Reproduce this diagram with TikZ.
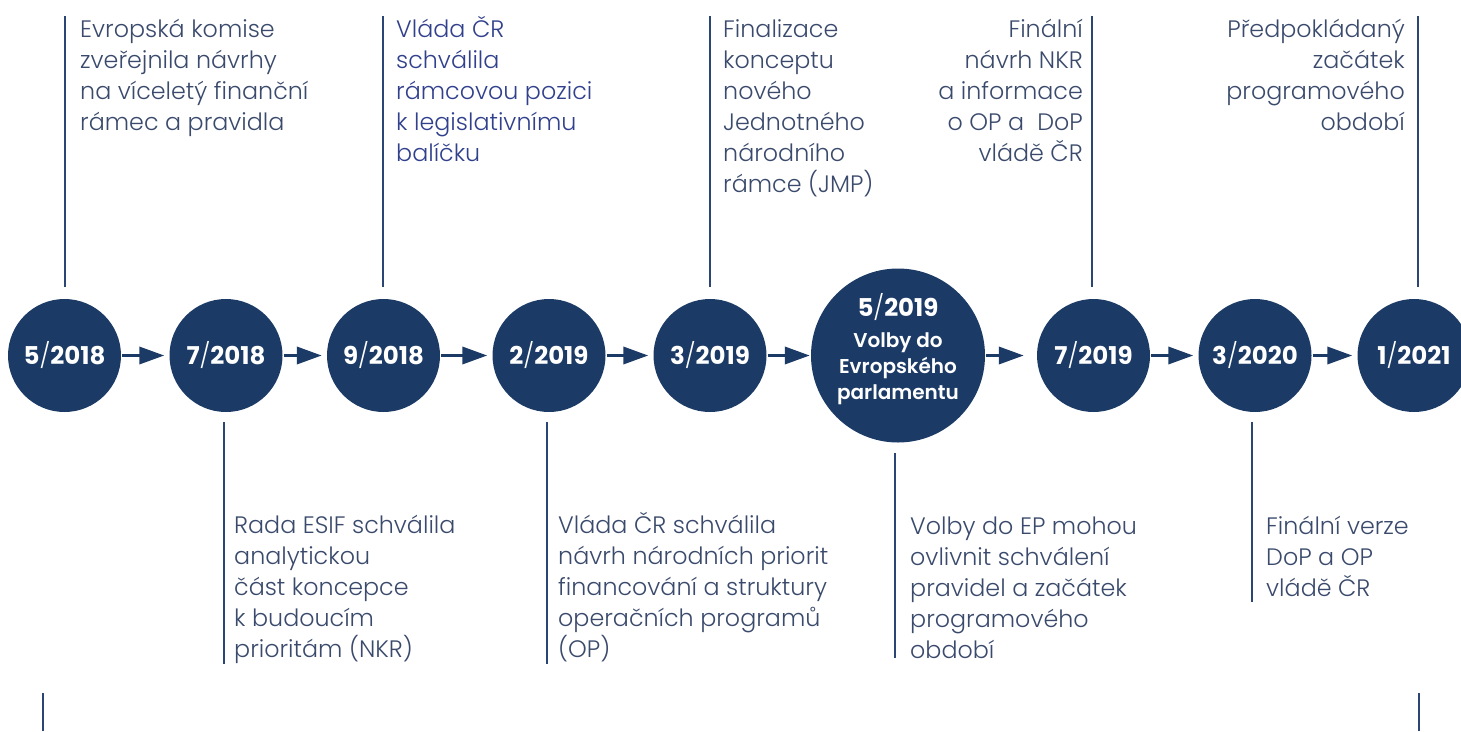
\documentclass[tikz,border=0pt]{standalone}
\usepackage{fontspec}
\setmainfont{Poppins}[UprightFont=* Light, BoldFont=* SemiBold]
\newfontfamily\boldf{Poppins}[UprightFont=* Bold]
\newfontfamily\semif{Poppins}[UprightFont=* SemiBold]
\newfontfamily\lightf{Poppins}[UprightFont=* Light]
\usetikzlibrary{arrows.meta}
\definecolor{navy}{HTML}{1B3A66}
\definecolor{lineblue}{HTML}{2B4675}
\definecolor{txt}{HTML}{3A4A6C}
\definecolor{txtb}{HTML}{30408C}
\tikzset{
  dot/.style={circle, fill=navy, inner sep=0pt, minimum size=113pt, text=white, font=\boldf\fontsize{24.5}{28}\selectfont},
  bigdot/.style={circle, fill=navy, inner sep=0pt, minimum size=174pt},
  arr/.style={draw=navy, line width=3.5pt, -{Triangle[length=25pt,width=17pt]}, shorten <=1pt, shorten >=5pt},
  vline/.style={draw=lineblue, line width=2.5pt},
  lbl/.style={inner sep=0pt, font=\fontsize{23.8}{31}\selectfont, text=txt},
}
\newcommand{\myslash}{{\lightf/}}
\newcommand{\mystrut}{\rule{0pt}{23pt}}
\begin{document}
\begin{tikzpicture}[x=1pt,y=-1pt]
\useasboundingbox (0,0) rectangle (1461,731);
% circles
\node[dot] (c1) at (64.5,355.5) {5\myslash2018};
\node[dot] (c2) at (226,355.5) {7\myslash2018};
\node[dot] (c3) at (383.5,355.5) {9\myslash2018};
\node[dot] (c4) at (549,355.5) {2\myslash2019};
\node[dot] (c5) at (710,355.5) {3\myslash2019};
\node[bigdot] (c6) at (898,355.5) {};
\node[text=white, align=center, inner sep=0pt, anchor=base, font=\semif\fontsize{20}{26}\selectfont] (c6t) at (898,399) {{\boldf\fontsize{24.5}{26}\selectfont 5\myslash2019}\\[5pt]Volby do\\Evropského\\parlamentu};
\node[dot] (c7) at (1093.5,355.5) {7\myslash2019};
\node[dot] (c8) at (1255,355.5) {3\myslash2020};
\node[dot] (c9) at (1414,355.5) {1\myslash2021};
% arrows
\draw[arr] (c1) -- (c2);
\draw[arr] (c2) -- (c3);
\draw[arr] (c3) -- (c4);
\draw[arr] (c4) -- (c5);
\draw[arr, shorten >=1pt] (c5) -- (c6);
\draw[arr, shorten >=13pt] (c6) -- (c7);
\draw[arr] (c7) -- (c8);
\draw[arr] (c8) -- (c9);
% vertical lines top
\draw[vline] (65,16) -- (65,287);
\draw[vline] (383,16) -- (383,287);
\draw[vline] (710,16) -- (710,287);
\draw[vline] (1092,16) -- (1092,287);
\draw[vline] (1418,16) -- (1418,287);
% vertical lines bottom
\draw[vline] (224,422) -- (224,664);
\draw[vline] (547,422) -- (547,664);
\draw[vline] (895,453) -- (895,658);
\draw[vline] (1252,422) -- (1252,602);
\draw[vline] (43,693) -- (43,731);
\draw[vline] (1419,693) -- (1419,731);
% top labels
\node[lbl, anchor=north west, align=left] (t1) at (80,14) {\mystrut Evropská komise\\zveřejnila návrhy\\na víceletý finanční\\rámec a pravidla};
\node[lbl, anchor=north west, align=left, text=txtb] (t2) at (396,14) {\mystrut Vláda ČR\\schválila\\rámcovou pozici\\k legislativnímu\\balíčku};
\node[lbl, anchor=north west, align=left] (t3) at (723,14) {\mystrut Finalizace\\konceptu\\nového\\Jednotného\\národního\\rámce (JMP)};
\node[lbl, anchor=north east, align=right] (t4) at (1083,14) {\mystrut Finální\\návrh NKR\\a informace\\o OP a~ DoP\\vládě ČR};
\node[lbl, anchor=north east, align=right] (t5) at (1405,14) {\mystrut Předpokládaný\\začátek\\programového\\období};
% bottom labels
\node[lbl, anchor=north west, align=left] (b1) at (234,510) {\mystrut Rada ESIF schválila\\analytickou\\část koncepce\\k budoucím\\prioritám (NKR)};
\node[lbl, anchor=north west, align=left] (b2) at (558,510) {\mystrut Vláda ČR schválila\\návrh národních priorit\\financování a struktury\\operačních programů\\(OP)};
\node[lbl, anchor=north west, align=left] (b3) at (910,511) {\mystrut Volby do EP mohou\\ovlivnit schválení\\pravidel a začátek\\programového\\období};
\node[lbl, anchor=north west, align=left] (b4) at (1266,511) {\mystrut Finální verze\\DoP a OP\\vládě ČR};
\end{tikzpicture}
\end{document}
